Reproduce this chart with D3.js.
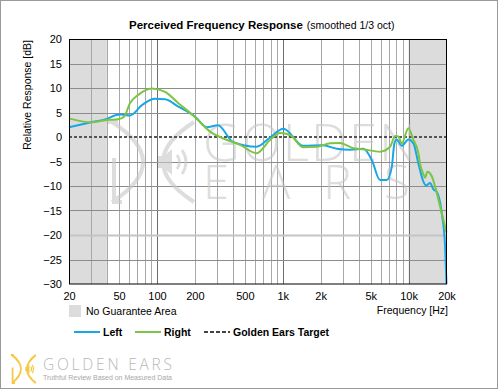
<!DOCTYPE html>
<html>
<head>
<meta charset="utf-8">
<script src="https://cdn.jsdelivr.net/npm/d3@7"></script>
<style>
  body { margin: 0; background: #fff; }
  svg { display: block; font-family: "Liberation Sans", Arial, sans-serif; }
</style>
</head>
<body>
<svg id="chart" width="499" height="391"></svg>
<script>
// frequency points (Hz) and dB values
var leftFreq = [20, 30, 40, 46, 52, 61, 76, 96, 116, 148, 200, 249, 305, 402, 620, 792, 1010, 1458, 2090, 2686, 3426, 4370, 5096, 5933, 6706, 7350, 7708, 8054, 8824, 9958, 10916, 11956, 13106, 13768, 14814, 15738, 16748, 18350, 19496, 20000];
var leftDb   = [2.0, 3.0, 3.7, 4.4, 4.6, 4.4, 6.5, 7.8, 7.7, 6.2, 4.2, 2.0, 2.4, -1.0, -2.0, -0.1, 1.7, -1.8, -1.7, -2.4, -2.6, -2.4, -4.7, -8.8, -8.8, -6.1, -1.3, -0.5, -1.8, -0.5, -1.3, -5.4, -9.1, -9.9, -9.4, -10.7, -11.2, -15.6, -22.4, -30];

var rightFreq = [20, 30, 41, 49, 55, 61, 71, 91, 116, 148, 200, 264, 337, 457, 621, 792, 951, 1142, 1458, 1862, 2376, 2853, 3640, 4370, 5933, 7124, 7808, 8294, 8824, 9958, 10916, 11956, 12333, 13106, 13520, 14094, 15282, 16236, 17788, 20000];
var rightDb   = [3.8, 3.0, 3.5, 3.6, 4.2, 6.9, 8.6, 9.9, 9.2, 6.9, 4.1, 1.1, -0.3, -1.6, -3.3, -0.6, 0.8, 0.4, -2.1, -2.0, -1.3, -1.2, -2.3, -2.5, -3.0, -2.0, 0.2, 0.1, -1.3, 1.8, -0.6, -3.3, -5.5, -7.6, -8.3, -7.1, -8.0, -10.1, -14.2, -19.5];

var xTicks = [20, 50, 100, 200, 500, 1000, 2000, 5000, 10000, 20000];
var xTickLabels = ["20", "50", "100", "200", "500", "1k", "2k", "5k", "10k", "20k"];
var yTicks = [20, 15, 10, 5, 0, -5, -10, -15, -20, -25, -30];
var noGuarantee = [[20, 40], [10000, 20000]];
var legendItems = ["Left", "Right", "Golden Ears Target"];

var svg = d3.select("#chart");
var x = d3.scaleLog().domain([20, 20000]).range([69, 446.5]);
var y = d3.scaleLinear().domain([-30, 20]).range([284, 39]);

// outer frame
svg.append("rect").attr("x", 0.5).attr("y", 0.5).attr("width", 497).attr("height", 388)
	.attr("fill", "#fff").attr("stroke", "#9a9a9a");

// shaded areas
svg.selectAll(".shade").data(noGuarantee).enter().append("rect")
	.attr("x", function(d) { return x(d[0]); })
	.attr("y", y(20))
	.attr("width", function(d) { return x(d[1]) - x(d[0]); })
	.attr("height", y(-30) - y(20))
	.attr("fill", "#dcdcdc");

// grid lines
var minor = [];
[10, 100, 1000, 10000].forEach(function(dec) {
	for (var i = 1; i < 10; i++) {
		var f = dec * i;
		if (f > 20 && f < 20000) minor.push(f);
	}
});
svg.selectAll(".vgrid").data(minor).enter().append("line")
	.attr("x1", function(d) { return Math.round(x(d)) + 0.5; })
	.attr("x2", function(d) { return Math.round(x(d)) + 0.5; })
	.attr("y1", y(20)).attr("y2", y(-30))
	.attr("stroke", function(d) { return (d === 100 || d === 1000 || d === 10000) ? "#6e6e6e" : "#a8a8a8"; })
	.attr("stroke-width", 1);

svg.selectAll(".hgrid").data(yTicks.filter(function(d) { return d !== 20 && d !== -30 && d !== 0; })).enter().append("line")
	.attr("x1", x(20)).attr("x2", x(20000))
	.attr("y1", function(d) { return Math.round(y(d)) + 0.5; })
	.attr("y2", function(d) { return Math.round(y(d)) + 0.5; })
	.attr("stroke", function(d) { return d === -20 ? "#c4c4c4" : "#8c8c8c"; })
	.attr("stroke-width", function(d) { return d === -20 ? 2 : 1; });

// watermark
function drawLogo(g, color, sw) {
	g.append("path").attr("d", "M0,0 Q62,40 0,80").attr("fill", "none").attr("stroke", color).attr("stroke-width", sw);
	g.append("path").attr("d", "M82,0 Q20,40 82,80").attr("fill", "none").attr("stroke", color).attr("stroke-width", sw);
	g.append("path").attr("d", "M2,36 L2,80 L10,80").attr("fill", "none").attr("stroke", color).attr("stroke-width", sw);
	g.append("path").attr("d", "M-4,0 L6,0").attr("fill", "none").attr("stroke", color).attr("stroke-width", sw);
	g.append("path").attr("d", "M46,34 L52,34 L60,27 L60,53 L52,46 L46,46 Z").attr("fill", color);
	g.append("path").attr("d", "M65,33 Q70,40 65,47").attr("fill", "none").attr("stroke", color).attr("stroke-width", sw * 0.7);
	g.append("path").attr("d", "M70,28 Q78,40 70,52").attr("fill", "none").attr("stroke", color).attr("stroke-width", sw * 0.7);
}
var wm = svg.append("g").attr("opacity", 0.6);
drawLogo(wm.append("g").attr("transform", "translate(112,122)"), "#c8c8c8", 4);
var wmText = wm.append("text").attr("fill", "#c8c8c8")
	.attr("font-family", "'Open Sans', sans-serif").attr("font-weight", 300);
wmText.append("tspan").attr("x", 203).attr("y", 161).attr("font-size", 51).attr("letter-spacing", 2).text("GOLDEN");
wmText.append("tspan").attr("x", 203).attr("y", 199).attr("font-size", 47).attr("letter-spacing", 33).text("EARS");

// target line
svg.append("line").attr("x1", x(20)).attr("x2", x(20000)).attr("y1", y(0)).attr("y2", y(0))
	.attr("stroke", "#555").attr("stroke-width", 2).attr("stroke-dasharray", "3,2");

// curves
var line = d3.line().x(function(d) { return x(d[0]); }).y(function(d) { return y(d[1]); }).curve(d3.curveMonotoneX);
svg.append("path").datum(d3.zip(leftFreq, leftDb)).attr("d", line)
	.attr("fill", "none").attr("stroke", "#18a6e6").attr("stroke-width", 2);
svg.append("path").datum(d3.zip(rightFreq, rightDb)).attr("d", line)
	.attr("fill", "none").attr("stroke", "#7cc444").attr("stroke-width", 2);

// frame
svg.append("rect").attr("x", 69.5).attr("y", 39.5).attr("width", x(20000) - 69.5).attr("height", 244.5)
	.attr("fill", "none").attr("stroke", "#000").attr("stroke-width", 1);

// axes
var xAxis = d3.axisBottom(x).tickValues(xTicks).tickSize(0).tickPadding(8)
	.tickFormat(function(d, i) { return xTickLabels[i]; });
var gx = svg.append("g").attr("transform", "translate(0,284)").call(xAxis);
gx.select(".domain").remove();
gx.selectAll("text").attr("font-size", 11).attr("fill", "#000").attr("font-family", "'Liberation Sans', Arial, sans-serif");

var yAxis = d3.axisLeft(y).tickValues(yTicks).tickSize(0).tickPadding(7);
var gy = svg.append("g").attr("transform", "translate(69,0)").call(yAxis);
gy.select(".domain").remove();
gy.selectAll("text").attr("font-size", 11).attr("fill", "#000").attr("font-family", "'Liberation Sans', Arial, sans-serif");

// title
var title = svg.append("text").attr("x", 129).attr("y", 29).attr("font-size", 11.5);
title.append("tspan").attr("font-weight", "bold").text("Perceived Frequency Response");
title.append("tspan").attr("font-size", 10.5).attr("dx", 4).text("(smoothed 1/3 oct)");

svg.append("text").attr("transform", "translate(31,40) rotate(-90)").attr("text-anchor", "end")
	.attr("font-size", 10.5).text("Relative Response [dB]");

svg.append("text").attr("x", 448).attr("y", 314).attr("text-anchor", "end").attr("font-size", 10.5).text("Frequency [Hz]");

// legend
svg.append("rect").attr("x", 69).attr("y", 305).attr("width", 12).attr("height", 12).attr("fill", "#dcdcdc");
svg.append("text").attr("x", 86).attr("y", 315).attr("font-size", 10.5).text("No Guarantee Area");

var legendX = [74, 135, 204];
var legendStyle = [["#18a6e6", null], ["#7cc444", null], ["#444", "4,2"]];
legendItems.forEach(function(name, i) {
	svg.append("line").attr("x1", legendX[i]).attr("x2", legendX[i] + 26).attr("y1", 332).attr("y2", 332)
		.attr("stroke", legendStyle[i][0]).attr("stroke-width", 2).attr("stroke-dasharray", legendStyle[i][1]);
	svg.append("text").attr("x", legendX[i] + 29).attr("y", 336).attr("font-size", 10.5).attr("font-weight", "bold").text(name);
});

// bottom logo
drawLogo(svg.append("g").attr("transform", "translate(12,355) scale(0.29,0.35)"), "#f5c843", 6);
svg.append("text").attr("x", 43).attr("y", 370).attr("font-size", 15.5).attr("fill", "#b8b8b8")
	.attr("font-family", "'Open Sans', sans-serif").attr("font-weight", 300)
	.attr("textLength", 129).attr("lengthAdjust", "spacing").text("GOLDEN EARS");
svg.append("text").attr("x", 43).attr("y", 380).attr("font-size", 6.8).attr("fill", "#a8a8a8")
	.attr("textLength", 129).attr("lengthAdjust", "spacingAndGlyphs").text("Truthful Review Based on Measured Data");
</script>
</body>
</html>
